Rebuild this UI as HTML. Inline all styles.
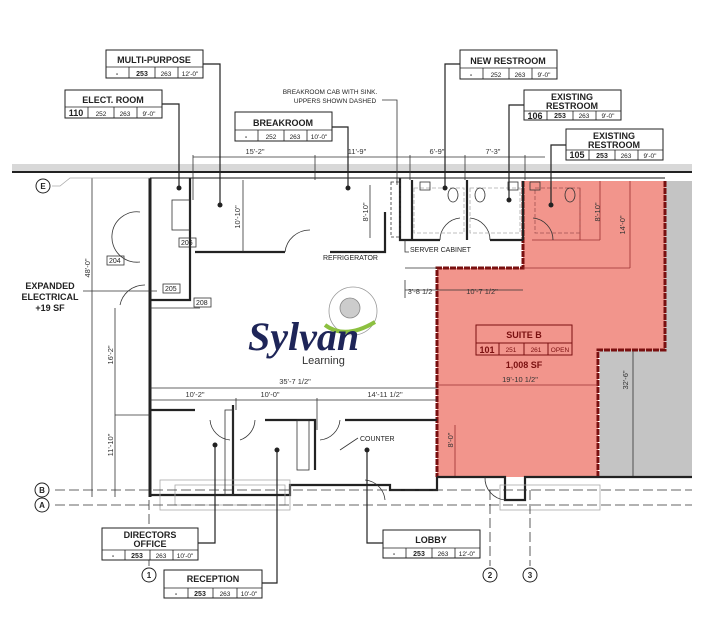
<!DOCTYPE html>
<html><head><meta charset="utf-8"><style>
html,body{margin:0;padding:0;background:#fff;}
svg{display:block;font-family:"Liberation Sans",sans-serif;}
.t{font-weight:bold;font-size:9px;text-anchor:middle;fill:#222}
.s{font-size:6.5px;text-anchor:middle;fill:#222}
.sb{font-size:7px;font-weight:bold;text-anchor:middle;fill:#222}
.d{font-size:7.5px;text-anchor:middle;fill:#333}
.w{stroke:#222;stroke-width:2.2;fill:none}
.tn{stroke:#333;stroke-width:.8;fill:none}
.lg{stroke:#aaa;stroke-width:.8;fill:none}
</style></head><body>
<svg width="705" height="618" viewBox="0 0 705 618" xmlns="http://www.w3.org/2000/svg">
<!-- grey band & top wall -->
<rect x="12" y="164" width="680" height="8" fill="#d8d8d8"/>
<line x1="12" y1="172" x2="692" y2="172" stroke="#222" stroke-width="2"/>
<line x1="150" y1="178" x2="665" y2="178" stroke="#444" stroke-width="1.2"/>
<!-- grey adjacent -->
<polygon points="665,181 692,181 692,477 600,477 600,350 665,350" fill="#c4c4c4"/>
<line x1="633" y1="350" x2="633" y2="477" class="tn"/>
<text class="d" transform="translate(628,380) rotate(-90)">32'-6"</text>
<!-- red suite -->
<polygon points="523,181 665,181 665,350 598,350 598,477 437,477 437,268 523,268" fill="#f2958c"/>
<polyline points="523,181 523,268 437,268 437,477" stroke="#7a1010" stroke-width="3" fill="none" stroke-dasharray="6,1"/>
<polyline points="665,181 665,350 598,350 598,477" stroke="#7a1010" stroke-width="3" fill="none" stroke-dasharray="6,1"/>
<line x1="437" y1="385" x2="598" y2="385" stroke="#9a3030" stroke-width=".8"/>
<text class="d" x="520" y="382" fill="#7a1010">19'-10 1/2"</text>
<line x1="600" y1="181" x2="600" y2="240" stroke="#9a3030" stroke-width=".8"/>
<line x1="580" y1="188" x2="580" y2="240" stroke="#9a3030" stroke-width=".8"/>
<line x1="532" y1="240" x2="600" y2="240" stroke="#9a3030" stroke-width=".8"/>
<line x1="630" y1="181" x2="630" y2="268" stroke="#9a3030" stroke-width=".8"/>
<line x1="523" y1="268" x2="630" y2="268" stroke="#9a3030" stroke-width=".8"/>
<text class="d" transform="translate(600,212) rotate(-90)">8'-10"</text>
<text class="d" transform="translate(625,225) rotate(-90)">14'-0"</text>
<text class="d" transform="translate(453,440) rotate(-90)">8'-0"</text>
<line x1="455" y1="425" x2="455" y2="477" stroke="#9a3030" stroke-width=".8"/>
<!-- Suite B label -->
<rect x="476" y="325" width="96" height="30" fill="none" stroke="#7a1010" stroke-width="1"/>
<line x1="476" y1="343" x2="572" y2="343" stroke="#7a1010"/>
<line x1="499" y1="343" x2="499" y2="355" stroke="#7a1010"/><line x1="524" y1="343" x2="524" y2="355" stroke="#7a1010"/><line x1="548" y1="343" x2="548" y2="355" stroke="#7a1010"/>
<text class="t" x="524" y="338" fill="#7a1010" style="fill:#7a1010">SUITE B</text>
<text x="487" y="353" style="font-size:9px;font-weight:bold;text-anchor:middle;fill:#7a1010">101</text>
<text class="s" x="511" y="352" style="fill:#7a1010">251</text><text class="s" x="536" y="352" style="fill:#7a1010">261</text><text class="s" x="560" y="352" style="fill:#7a1010">OPEN</text>
<text x="524" y="368" style="font-size:9px;font-weight:bold;text-anchor:middle;fill:#7a1010">1,008 SF</text>

<!-- walls -->
<line x1="150" y1="178" x2="150" y2="497" stroke="#222" stroke-width="3"/>
<polyline class="w" points="190,178 190,300 150,300"/>
<polyline class="w" points="195,252 285,252"/><polyline class="w" points="330,252 385,252 385,212"/>
<polyline class="w" points="400,178 400,240 440,240"/><polyline class="w" points="412,180 412,240"/>
<polyline class="w" points="467,180 467,240"/><polyline class="w" points="490,240 523,240"/>
<polyline class="w" points="523,181 523,240"/>
<line x1="405" y1="268" x2="437" y2="268" class="tn"/>
<polyline class="w" points="150,410 195,410"/><polyline class="w" points="233,405 233,495"/>
<polyline class="w" points="265,420 315,420 315,470"/><polyline class="w" points="345,420 437,420"/>
<polyline class="w" points="150,495 290,495 290,485 390,485 390,490 437,490 437,477"/>
<polyline class="w" points="437,477 505,477 505,500 525,500 525,477 598,477 692,477"/>
<rect x="160" y="480" width="130" height="30" class="lg"/>
<rect x="175" y="485" width="110" height="20" class="lg"/>
<rect x="500" y="485" width="100" height="25" class="lg"/>
<!-- door arcs -->
<path d="M285,252 A25,25 0 0 1 310,230" class="tn"/>
<path d="M112,235 A25,25 0 0 1 140,212" class="tn"/>
<path d="M112,235 A25,25 0 0 0 140,262" class="tn"/>
<path d="M120,305 A25,25 0 0 1 145,285" class="tn"/>
<path d="M210,420 A22,22 0 0 0 230,440" class="tn"/>
<path d="M255,420 A22,22 0 0 1 240,440" class="tn"/>
<path d="M340,420 A22,22 0 0 1 320,440" class="tn"/>
<path d="M365,480 A22,22 0 0 1 385,500" class="tn"/>
<path d="M440,240 A22,22 0 0 1 460,218" class="tn"/>
<path d="M490,240 A22,22 0 0 0 470,218" class="tn"/>
<path d="M553,240 A22,22 0 0 0 533,218" class="tn"/>
<path d="M485,477 A22,22 0 0 0 505,500" class="tn"/>
<!-- fixtures -->
<rect x="414" y="188" width="50" height="45" class="lg" stroke-dasharray="4,2"/>
<rect x="470" y="188" width="50" height="45" class="lg" stroke-dasharray="4,2"/>
<rect x="535" y="188" width="45" height="45" stroke="#a05050" stroke-width=".8" fill="none" stroke-dasharray="4,2"/>
<ellipse cx="453" cy="195" rx="5" ry="7" class="tn"/><ellipse cx="480" cy="195" rx="5" ry="7" class="tn"/><ellipse cx="570" cy="195" rx="5" ry="7" class="tn"/>
<rect x="420" y="182" width="10" height="8" class="tn"/><rect x="508" y="182" width="10" height="8" class="tn"/><rect x="530" y="182" width="10" height="8" class="tn"/>
<rect x="172" y="200" width="18" height="30" class="tn"/>
<rect x="391" y="182" width="9" height="55" class="tn" stroke-dasharray="3,2"/>
<rect x="225" y="410" width="8" height="85" class="tn"/>
<rect x="297" y="420" width="12" height="50" class="tn"/>
<!-- top dimensions -->
<line x1="193" y1="157" x2="545" y2="157" class="tn"/>
<g class="tn"><line x1="193" y1="155" x2="193" y2="200"/><line x1="315" y1="155" x2="315" y2="180"/><line x1="410" y1="155" x2="410" y2="180"/><line x1="465" y1="155" x2="465" y2="180"/><line x1="525" y1="155" x2="525" y2="180"/></g>
<text class="d" x="255" y="154">15'-2"</text><text class="d" x="357" y="154">11'-9"</text><text class="d" x="437" y="154">6'-9"</text><text class="d" x="493" y="154">7'-3"</text>
<line x1="243" y1="180" x2="243" y2="252" class="tn"/><text class="d" transform="translate(240,217) rotate(-90)">10'-10"</text>
<line x1="370" y1="185" x2="370" y2="238" class="tn"/><text class="d" transform="translate(368,212) rotate(-90)">8'-10"</text>
<line x1="405" y1="290" x2="523" y2="290" class="tn"/><text class="d" x="420" y="294">3'-8 1/2</text><text class="d" x="482" y="294">10'-7 1/2"</text>
<line x1="405" y1="280" x2="405" y2="298" class="tn"/>
<!-- lower dims -->
<line x1="150" y1="388" x2="437" y2="388" class="tn"/><text class="d" x="295" y="384">35'-7 1/2"</text>
<line x1="150" y1="400" x2="437" y2="400" class="tn"/>
<text class="d" x="195" y="397">10'-2"</text><text class="d" x="270" y="397">10'-0"</text><text class="d" x="385" y="397">14'-11 1/2"</text>
<line x1="236" y1="398" x2="236" y2="410" class="tn"/><line x1="317" y1="398" x2="317" y2="430" class="tn"/>
<line x1="92" y1="178" x2="92" y2="497" class="tn"/><text class="d" transform="translate(90,268) rotate(-90)">48'-0"</text>
<line x1="115" y1="308" x2="115" y2="497" class="tn"/><text class="d" transform="translate(113,355) rotate(-90)">16'-2"</text>
<text class="d" transform="translate(113,445) rotate(-90)">11'-10"</text>
<line x1="115" y1="415" x2="150" y2="415" class="tn"/>
<line x1="150" y1="308" x2="200" y2="308" class="tn"/>
<!-- labels small -->
<g style="font-size:7px;fill:#222">
<text x="323" y="260">REFRIGERATOR</text>
<text x="410" y="252">SERVER CABINET</text>
<text x="360" y="441">COUNTER</text>
</g>
<polyline class="tn" points="405,240 405,252 409,252"/>
<polyline class="tn" points="358,438 340,450"/>
<g style="font-size:7px;fill:#222">
<rect x="179" y="238" width="17" height="9" class="tn"/><text x="181" y="245">206</text>
<rect x="107" y="256" width="17" height="9" class="tn"/><text x="109" y="263">204</text>
<rect x="163" y="284" width="17" height="9" class="tn"/><text x="165" y="291">205</text>
<rect x="194" y="298" width="17" height="9" class="tn"/><text x="196" y="305">208</text>
</g>
<!-- Expanded electrical -->
<g class="t" style="font-size:9px"><text x="50" y="289">EXPANDED</text><text x="50" y="300">ELECTRICAL</text><text x="50" y="311">+19 SF</text></g>
<line x1="83" y1="291" x2="157" y2="291" class="tn"/>
<!-- breakroom note -->
<text class="s" x="330" y="94">BREAKROOM CAB WITH SINK.</text>
<text class="s" x="335" y="103">UPPERS SHOWN DASHED</text>
<polyline class="tn" points="382,100 397,100 397,185"/>
<!-- logo -->
<circle cx="353" cy="311" r="24" fill="none" stroke="#999" stroke-width=".8"/>
<circle cx="350" cy="308" r="10" fill="#ccc" stroke="#888" stroke-width=".8"/>
<path d="M325,325 Q345,340 375,322" stroke="#8cc040" stroke-width="4" fill="none"/>
<text x="248" y="350" style="font-family:'Liberation Serif',serif;font-style:italic;font-weight:bold;font-size:40px;fill:#1e2558">Sylvan</text>
<text x="302" y="364" style="font-size:11px;fill:#333">Learning</text>
<!-- grid -->
<g class="tn" stroke-dasharray="10,4"><line x1="55" y1="490" x2="692" y2="490"/><line x1="55" y1="505" x2="692" y2="505"/>
<line x1="490" y1="490" x2="490" y2="566"/><line x1="530" y1="490" x2="530" y2="566"/><line x1="149" y1="500" x2="149" y2="566"/></g>
<polyline class="lg" points="52,186 60,186 70,178 150,178"/>
<g style="font-size:8px;font-weight:bold;text-anchor:middle;fill:#222">
<circle cx="43" cy="186" r="7" fill="#fff" stroke="#222"/><text x="43" y="189">E</text>
<circle cx="42" cy="490" r="7" fill="#fff" stroke="#222"/><text x="42" y="493">B</text>
<circle cx="42" cy="505" r="7" fill="#fff" stroke="#222"/><text x="42" y="508">A</text>
<circle cx="149" cy="575" r="7" fill="#fff" stroke="#222"/><text x="149" y="578">1</text>
<circle cx="490" cy="575" r="7" fill="#fff" stroke="#222"/><text x="490" y="578">2</text>
<circle cx="530" cy="575" r="7" fill="#fff" stroke="#222"/><text x="530" y="578">3</text>
</g>
<!-- leaders -->
<g stroke="#222" stroke-width="1.2" fill="none">
<polyline points="203,64 220,64 220,205"/><polyline points="162,104 179,104 179,188"/>
<polyline points="332,127 348,127 348,188"/><polyline points="460,64 445,64 445,188"/>
<polyline points="524,105 509,105 509,200"/><polyline points="566,145 551,145 551,205"/>
<polyline points="198,543 215,543 215,445"/><polyline points="262,583 277,583 277,450"/>
<polyline points="383,543 367,543 367,450"/>
</g>
<g fill="#222"><circle cx="220" cy="205" r="2.5"/><circle cx="179" cy="188" r="2.5"/><circle cx="348" cy="188" r="2.5"/><circle cx="445" cy="188" r="2.5"/><circle cx="509" cy="200" r="2.5"/><circle cx="551" cy="205" r="2.5"/><circle cx="215" cy="445" r="2.5"/><circle cx="277" cy="450" r="2.5"/><circle cx="367" cy="450" r="2.5"/></g>
<!-- room tags -->
<g id="tags" fill="#fff" stroke="#222" stroke-width="1">
<rect x="106" y="50" width="97" height="28"/><rect x="65" y="90" width="97" height="28"/>
<rect x="235" y="112" width="97" height="29"/><rect x="460" y="50" width="97" height="29"/>
<rect x="524" y="90" width="97" height="30"/><rect x="566" y="129" width="97" height="31"/>
<rect x="102" y="528" width="96" height="32"/><rect x="164" y="570" width="98" height="28"/>
<rect x="383" y="530" width="97" height="28"/>
</g>
<g stroke="#222" stroke-width=".8">
<line x1="106" y1="67" x2="203" y2="67"/><line x1="129" y1="67" x2="129" y2="78"/><line x1="155" y1="67" x2="155" y2="78"/><line x1="178" y1="67" x2="178" y2="78"/>
<line x1="65" y1="107" x2="162" y2="107"/><line x1="88" y1="107" x2="88" y2="118"/><line x1="114" y1="107" x2="114" y2="118"/><line x1="137" y1="107" x2="137" y2="118"/>
<line x1="235" y1="130" x2="332" y2="130"/><line x1="258" y1="130" x2="258" y2="141"/><line x1="284" y1="130" x2="284" y2="141"/><line x1="307" y1="130" x2="307" y2="141"/>
<line x1="460" y1="68" x2="557" y2="68"/><line x1="483" y1="68" x2="483" y2="79"/><line x1="509" y1="68" x2="509" y2="79"/><line x1="532" y1="68" x2="532" y2="79"/>
<line x1="524" y1="111" x2="621" y2="111"/><line x1="547" y1="111" x2="547" y2="120"/><line x1="573" y1="111" x2="573" y2="120"/><line x1="596" y1="111" x2="596" y2="120"/>
<line x1="566" y1="150" x2="663" y2="150"/><line x1="589" y1="150" x2="589" y2="160"/><line x1="615" y1="150" x2="615" y2="160"/><line x1="638" y1="150" x2="638" y2="160"/>
<line x1="102" y1="550" x2="198" y2="550"/><line x1="125" y1="550" x2="125" y2="560"/><line x1="150" y1="550" x2="150" y2="560"/><line x1="173" y1="550" x2="173" y2="560"/>
<line x1="164" y1="588" x2="262" y2="588"/><line x1="188" y1="588" x2="188" y2="598"/><line x1="213" y1="588" x2="213" y2="598"/><line x1="237" y1="588" x2="237" y2="598"/>
<line x1="383" y1="548" x2="480" y2="548"/><line x1="406" y1="548" x2="406" y2="558"/><line x1="432" y1="548" x2="432" y2="558"/><line x1="455" y1="548" x2="455" y2="558"/>
</g>
<g>
<text class="t" x="154" y="63">MULTI-PURPOSE</text><text class="sb" x="117" y="76">-</text><text class="sb" x="142" y="76">253</text><text class="s" x="166" y="76">263</text><text class="s" x="190" y="76">12'-0"</text>
<text class="t" x="113" y="103">ELECT. ROOM</text><text class="t" x="76" y="116" style="font-size:9px">110</text><text class="s" x="101" y="116">252</text><text class="s" x="125" y="116">263</text><text class="s" x="149" y="116">9'-0"</text>
<text class="t" x="283" y="126">BREAKROOM</text><text class="sb" x="246" y="139">-</text><text class="s" x="271" y="139">252</text><text class="s" x="295" y="139">263</text><text class="s" x="319" y="139">10'-0"</text>
<text class="t" x="508" y="64">NEW RESTROOM</text><text class="sb" x="471" y="77">-</text><text class="s" x="496" y="77">252</text><text class="s" x="520" y="77">263</text><text class="s" x="544" y="77">9'-0"</text>
<text class="t" x="572" y="100">EXISTING</text><text class="t" x="572" y="109">RESTROOM</text><text class="t" x="535" y="119">106</text><text class="sb" x="560" y="118">253</text><text class="s" x="584" y="118">263</text><text class="s" x="608" y="118">9'-0"</text>
<text class="t" x="614" y="139">EXISTING</text><text class="t" x="614" y="148">RESTROOM</text><text class="t" x="577" y="158">105</text><text class="sb" x="602" y="158">253</text><text class="s" x="626" y="158">263</text><text class="s" x="650" y="158">9'-0"</text>
<text class="t" x="150" y="538">DIRECTORS</text><text class="t" x="150" y="547">OFFICE</text><text class="sb" x="113" y="558">-</text><text class="sb" x="137" y="558">253</text><text class="s" x="161" y="558">263</text><text class="s" x="185" y="558">10'-0"</text>
<text class="t" x="213" y="582">RECEPTION</text><text class="sb" x="176" y="596">-</text><text class="sb" x="200" y="596">253</text><text class="s" x="225" y="596">263</text><text class="s" x="249" y="596">10'-0"</text>
<text class="t" x="431" y="543">LOBBY</text><text class="sb" x="394" y="556">-</text><text class="sb" x="419" y="556">253</text><text class="s" x="443" y="556">263</text><text class="s" x="467" y="556">12'-0"</text>
</g>
</svg>
</body></html>
